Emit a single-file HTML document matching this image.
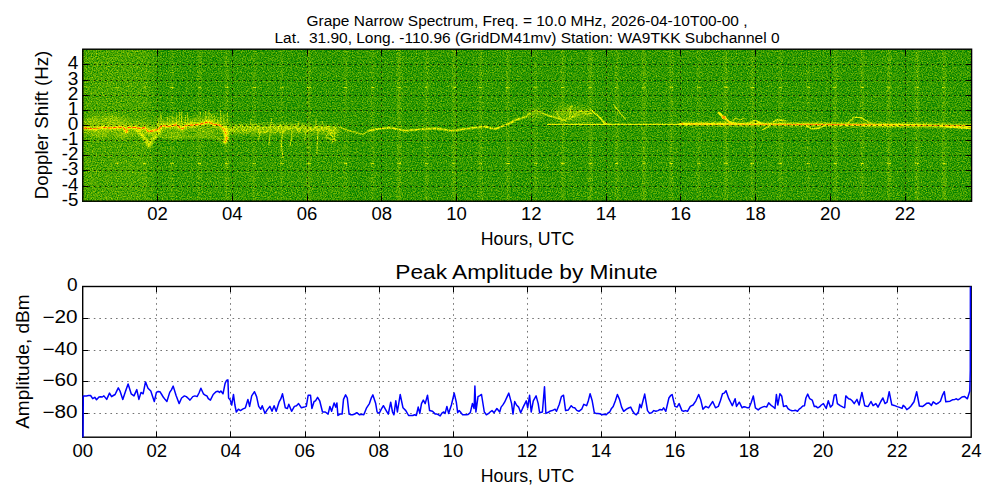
<!DOCTYPE html>
<html><head><meta charset="utf-8"><style>
html,body{margin:0;padding:0;background:#fff;width:1000px;height:500px;overflow:hidden}
svg{display:block}
text{font-family:"Liberation Sans", sans-serif;white-space:pre}
</style></head><body>
<svg width="1000" height="500" viewBox="0 0 1000 500">
<defs>
<filter id="cm" x="82.8" y="49.2" width="888.8" height="152.0" filterUnits="userSpaceOnUse" color-interpolation-filters="sRGB">
<feTurbulence type="fractalNoise" baseFrequency="0.8" numOctaves="2" seed="7" result="n"/>
<feColorMatrix in="n" type="matrix" values="1 0 0 0 0  1 0 0 0 0  1 0 0 0 0  0 0 0 0 1" result="ng0"/>
<feGaussianBlur in="ng0" stdDeviation="0.35" result="ng"/>
<feComposite in="SourceGraphic" in2="ng" operator="arithmetic" k1="0" k2="1" k3="0.58" k4="-0.29" result="lv"/>
<feComponentTransfer in="lv">
<feFuncR type="table" tableValues="0 1 1"/>
<feFuncG type="table" tableValues="0.5 1 0"/>
<feFuncB type="table" tableValues="0 0 0"/>
<feFuncA type="discrete" tableValues="1"/>
</feComponentTransfer>
</filter>
<filter id="b6" x="60" y="30" width="930" height="190" filterUnits="userSpaceOnUse"><feGaussianBlur stdDeviation="6"/></filter>
<filter id="b4" x="60" y="30" width="930" height="190" filterUnits="userSpaceOnUse"><feGaussianBlur stdDeviation="4"/></filter>
<filter id="b3" x="60" y="30" width="930" height="190" filterUnits="userSpaceOnUse"><feGaussianBlur stdDeviation="3"/></filter>
<filter id="b2" x="60" y="30" width="930" height="190" filterUnits="userSpaceOnUse"><feGaussianBlur stdDeviation="2"/></filter>
<filter id="b1" x="60" y="30" width="930" height="190" filterUnits="userSpaceOnUse"><feGaussianBlur stdDeviation="0.8"/></filter>
<filter id="b15" x="60" y="30" width="930" height="190" filterUnits="userSpaceOnUse"><feGaussianBlur stdDeviation="1.0 0.3"/></filter>
<filter id="b05" x="60" y="30" width="930" height="190" filterUnits="userSpaceOnUse"><feGaussianBlur stdDeviation="0.5"/></filter>
</defs>
<g filter="url(#cm)">
<rect x="82.8" y="49.2" width="888.8" height="152.0" fill="#191919"/>
<g filter="url(#b6)">
<rect x="70" y="40" width="84" height="170" fill="#282828"/>
<rect x="150" y="128" width="85" height="80" fill="#1d1d1d"/>
<rect x="235" y="128" width="110" height="80" fill="#1a1a1a"/>
</g>
<rect x="115.2" y="49.2" width="3.5" height="152.0" fill="#272727" opacity="0.9" filter="url(#b15)"/>
<rect x="115.2" y="86.9" width="3.5" height="1.2" fill="#666666" opacity="0.9"/>
<rect x="115.2" y="162.9" width="3.5" height="1.2" fill="#6e6e6e" opacity="0.9"/>
<rect x="115.2" y="146.9" width="3.5" height="1.2" fill="#383838" opacity="0.9"/>
<rect x="115.2" y="177.9" width="3.5" height="1.2" fill="#383838" opacity="0.9"/>
<rect x="115.2" y="71.9" width="3.5" height="1.2" fill="#303030" opacity="0.9"/>
<rect x="115.2" y="101.9" width="3.5" height="1.2" fill="#303030" opacity="0.9"/>
<rect x="142.8" y="49.2" width="3.5" height="152.0" fill="#2b2b2b" opacity="0.9" filter="url(#b15)"/>
<rect x="142.8" y="86.9" width="3.5" height="1.2" fill="#666666" opacity="0.9"/>
<rect x="142.8" y="162.9" width="3.5" height="1.2" fill="#6e6e6e" opacity="0.9"/>
<rect x="142.8" y="146.9" width="3.5" height="1.2" fill="#383838" opacity="0.9"/>
<rect x="142.8" y="177.9" width="3.5" height="1.2" fill="#383838" opacity="0.9"/>
<rect x="142.8" y="71.9" width="3.5" height="1.2" fill="#303030" opacity="0.9"/>
<rect x="142.8" y="101.9" width="3.5" height="1.2" fill="#303030" opacity="0.9"/>
<rect x="170.2" y="49.2" width="3.5" height="152.0" fill="#282828" opacity="0.9" filter="url(#b15)"/>
<rect x="170.2" y="86.9" width="3.5" height="1.2" fill="#666666" opacity="0.9"/>
<rect x="170.2" y="162.9" width="3.5" height="1.2" fill="#6e6e6e" opacity="0.9"/>
<rect x="170.2" y="146.9" width="3.5" height="1.2" fill="#383838" opacity="0.9"/>
<rect x="170.2" y="177.9" width="3.5" height="1.2" fill="#383838" opacity="0.9"/>
<rect x="170.2" y="71.9" width="3.5" height="1.2" fill="#303030" opacity="0.9"/>
<rect x="170.2" y="101.9" width="3.5" height="1.2" fill="#303030" opacity="0.9"/>
<rect x="197.8" y="49.2" width="3.5" height="152.0" fill="#2b2b2b" opacity="0.9" filter="url(#b15)"/>
<rect x="197.8" y="86.9" width="3.5" height="1.2" fill="#666666" opacity="0.9"/>
<rect x="197.8" y="162.9" width="3.5" height="1.2" fill="#6e6e6e" opacity="0.9"/>
<rect x="197.8" y="146.9" width="3.5" height="1.2" fill="#383838" opacity="0.9"/>
<rect x="197.8" y="177.9" width="3.5" height="1.2" fill="#383838" opacity="0.9"/>
<rect x="197.8" y="71.9" width="3.5" height="1.2" fill="#303030" opacity="0.9"/>
<rect x="197.8" y="101.9" width="3.5" height="1.2" fill="#303030" opacity="0.9"/>
<rect x="225.2" y="49.2" width="3.5" height="152.0" fill="#2c2c2c" opacity="0.9" filter="url(#b15)"/>
<rect x="225.2" y="86.9" width="3.5" height="1.2" fill="#666666" opacity="0.9"/>
<rect x="225.2" y="162.9" width="3.5" height="1.2" fill="#6e6e6e" opacity="0.9"/>
<rect x="225.2" y="146.9" width="3.5" height="1.2" fill="#383838" opacity="0.9"/>
<rect x="225.2" y="177.9" width="3.5" height="1.2" fill="#383838" opacity="0.9"/>
<rect x="225.2" y="71.9" width="3.5" height="1.2" fill="#303030" opacity="0.9"/>
<rect x="225.2" y="101.9" width="3.5" height="1.2" fill="#303030" opacity="0.9"/>
<rect x="252.4" y="49.2" width="3.5" height="152.0" fill="#252525" opacity="0.9" filter="url(#b15)"/>
<rect x="252.4" y="86.9" width="3.5" height="1.2" fill="#666666" opacity="0.9"/>
<rect x="252.4" y="162.9" width="3.5" height="1.2" fill="#6e6e6e" opacity="0.9"/>
<rect x="252.4" y="146.9" width="3.5" height="1.2" fill="#383838" opacity="0.9"/>
<rect x="252.4" y="177.9" width="3.5" height="1.2" fill="#383838" opacity="0.9"/>
<rect x="252.4" y="71.9" width="3.5" height="1.2" fill="#303030" opacity="0.9"/>
<rect x="252.4" y="101.9" width="3.5" height="1.2" fill="#303030" opacity="0.9"/>
<rect x="280.1" y="49.2" width="3.5" height="152.0" fill="#242424" opacity="0.9" filter="url(#b15)"/>
<rect x="280.1" y="86.9" width="3.5" height="1.2" fill="#666666" opacity="0.9"/>
<rect x="280.1" y="162.9" width="3.5" height="1.2" fill="#6e6e6e" opacity="0.9"/>
<rect x="280.1" y="146.9" width="3.5" height="1.2" fill="#383838" opacity="0.9"/>
<rect x="280.1" y="177.9" width="3.5" height="1.2" fill="#383838" opacity="0.9"/>
<rect x="280.1" y="71.9" width="3.5" height="1.2" fill="#303030" opacity="0.9"/>
<rect x="280.1" y="101.9" width="3.5" height="1.2" fill="#303030" opacity="0.9"/>
<rect x="307.1" y="49.2" width="3.5" height="152.0" fill="#2e2e2e" opacity="0.9" filter="url(#b15)"/>
<rect x="307.1" y="86.9" width="3.5" height="1.2" fill="#666666" opacity="0.9"/>
<rect x="307.1" y="162.9" width="3.5" height="1.2" fill="#6e6e6e" opacity="0.9"/>
<rect x="307.1" y="146.9" width="3.5" height="1.2" fill="#383838" opacity="0.9"/>
<rect x="307.1" y="177.9" width="3.5" height="1.2" fill="#383838" opacity="0.9"/>
<rect x="307.1" y="71.9" width="3.5" height="1.2" fill="#303030" opacity="0.9"/>
<rect x="307.1" y="101.9" width="3.5" height="1.2" fill="#303030" opacity="0.9"/>
<rect x="343.6" y="49.2" width="3.5" height="152.0" fill="#272727" opacity="0.9" filter="url(#b15)"/>
<rect x="343.6" y="86.9" width="3.5" height="1.2" fill="#666666" opacity="0.9"/>
<rect x="343.6" y="162.9" width="3.5" height="1.2" fill="#6e6e6e" opacity="0.9"/>
<rect x="343.6" y="146.9" width="3.5" height="1.2" fill="#383838" opacity="0.9"/>
<rect x="343.6" y="177.9" width="3.5" height="1.2" fill="#383838" opacity="0.9"/>
<rect x="343.6" y="71.9" width="3.5" height="1.2" fill="#303030" opacity="0.9"/>
<rect x="343.6" y="101.9" width="3.5" height="1.2" fill="#303030" opacity="0.9"/>
<rect x="370.6" y="49.2" width="3.5" height="152.0" fill="#272727" opacity="0.9" filter="url(#b15)"/>
<rect x="370.6" y="86.9" width="3.5" height="1.2" fill="#666666" opacity="0.9"/>
<rect x="370.6" y="162.9" width="3.5" height="1.2" fill="#6e6e6e" opacity="0.9"/>
<rect x="370.6" y="146.9" width="3.5" height="1.2" fill="#383838" opacity="0.9"/>
<rect x="370.6" y="177.9" width="3.5" height="1.2" fill="#383838" opacity="0.9"/>
<rect x="370.6" y="71.9" width="3.5" height="1.2" fill="#303030" opacity="0.9"/>
<rect x="370.6" y="101.9" width="3.5" height="1.2" fill="#303030" opacity="0.9"/>
<rect x="397.4" y="49.2" width="3.5" height="152.0" fill="#303030" opacity="0.9" filter="url(#b15)"/>
<rect x="397.4" y="86.9" width="3.5" height="1.2" fill="#666666" opacity="0.9"/>
<rect x="397.4" y="162.9" width="3.5" height="1.2" fill="#6e6e6e" opacity="0.9"/>
<rect x="397.4" y="146.9" width="3.5" height="1.2" fill="#383838" opacity="0.9"/>
<rect x="397.4" y="177.9" width="3.5" height="1.2" fill="#383838" opacity="0.9"/>
<rect x="397.4" y="71.9" width="3.5" height="1.2" fill="#303030" opacity="0.9"/>
<rect x="397.4" y="101.9" width="3.5" height="1.2" fill="#303030" opacity="0.9"/>
<rect x="424.9" y="49.2" width="3.5" height="152.0" fill="#2a2a2a" opacity="0.9" filter="url(#b15)"/>
<rect x="424.9" y="86.9" width="3.5" height="1.2" fill="#666666" opacity="0.9"/>
<rect x="424.9" y="162.9" width="3.5" height="1.2" fill="#6e6e6e" opacity="0.9"/>
<rect x="424.9" y="146.9" width="3.5" height="1.2" fill="#383838" opacity="0.9"/>
<rect x="424.9" y="177.9" width="3.5" height="1.2" fill="#383838" opacity="0.9"/>
<rect x="424.9" y="71.9" width="3.5" height="1.2" fill="#303030" opacity="0.9"/>
<rect x="424.9" y="101.9" width="3.5" height="1.2" fill="#303030" opacity="0.9"/>
<rect x="452.4" y="49.2" width="3.5" height="152.0" fill="#2e2e2e" opacity="0.9" filter="url(#b15)"/>
<rect x="452.4" y="86.9" width="3.5" height="1.2" fill="#666666" opacity="0.9"/>
<rect x="452.4" y="162.9" width="3.5" height="1.2" fill="#6e6e6e" opacity="0.9"/>
<rect x="452.4" y="146.9" width="3.5" height="1.2" fill="#383838" opacity="0.9"/>
<rect x="452.4" y="177.9" width="3.5" height="1.2" fill="#383838" opacity="0.9"/>
<rect x="452.4" y="71.9" width="3.5" height="1.2" fill="#303030" opacity="0.9"/>
<rect x="452.4" y="101.9" width="3.5" height="1.2" fill="#303030" opacity="0.9"/>
<rect x="478.8" y="49.2" width="3.5" height="152.0" fill="#2a2a2a" opacity="0.9" filter="url(#b15)"/>
<rect x="478.8" y="86.9" width="3.5" height="1.2" fill="#666666" opacity="0.9"/>
<rect x="478.8" y="162.9" width="3.5" height="1.2" fill="#6e6e6e" opacity="0.9"/>
<rect x="478.8" y="146.9" width="3.5" height="1.2" fill="#383838" opacity="0.9"/>
<rect x="478.8" y="177.9" width="3.5" height="1.2" fill="#383838" opacity="0.9"/>
<rect x="478.8" y="71.9" width="3.5" height="1.2" fill="#303030" opacity="0.9"/>
<rect x="478.8" y="101.9" width="3.5" height="1.2" fill="#303030" opacity="0.9"/>
<rect x="506.2" y="49.2" width="3.5" height="152.0" fill="#2c2c2c" opacity="0.9" filter="url(#b15)"/>
<rect x="506.2" y="86.9" width="3.5" height="1.2" fill="#666666" opacity="0.9"/>
<rect x="506.2" y="162.9" width="3.5" height="1.2" fill="#6e6e6e" opacity="0.9"/>
<rect x="506.2" y="146.9" width="3.5" height="1.2" fill="#383838" opacity="0.9"/>
<rect x="506.2" y="177.9" width="3.5" height="1.2" fill="#383838" opacity="0.9"/>
<rect x="506.2" y="71.9" width="3.5" height="1.2" fill="#303030" opacity="0.9"/>
<rect x="506.2" y="101.9" width="3.5" height="1.2" fill="#303030" opacity="0.9"/>
<rect x="533.8" y="49.2" width="3.5" height="152.0" fill="#262626" opacity="0.9" filter="url(#b15)"/>
<rect x="533.8" y="86.9" width="3.5" height="1.2" fill="#666666" opacity="0.9"/>
<rect x="533.8" y="162.9" width="3.5" height="1.2" fill="#6e6e6e" opacity="0.9"/>
<rect x="533.8" y="146.9" width="3.5" height="1.2" fill="#383838" opacity="0.9"/>
<rect x="533.8" y="177.9" width="3.5" height="1.2" fill="#383838" opacity="0.9"/>
<rect x="533.8" y="71.9" width="3.5" height="1.2" fill="#303030" opacity="0.9"/>
<rect x="533.8" y="101.9" width="3.5" height="1.2" fill="#303030" opacity="0.9"/>
<rect x="561.2" y="49.2" width="3.5" height="152.0" fill="#2c2c2c" opacity="0.9" filter="url(#b15)"/>
<rect x="561.2" y="86.9" width="3.5" height="1.2" fill="#666666" opacity="0.9"/>
<rect x="561.2" y="162.9" width="3.5" height="1.2" fill="#6e6e6e" opacity="0.9"/>
<rect x="561.2" y="146.9" width="3.5" height="1.2" fill="#383838" opacity="0.9"/>
<rect x="561.2" y="177.9" width="3.5" height="1.2" fill="#383838" opacity="0.9"/>
<rect x="561.2" y="71.9" width="3.5" height="1.2" fill="#303030" opacity="0.9"/>
<rect x="561.2" y="101.9" width="3.5" height="1.2" fill="#303030" opacity="0.9"/>
<rect x="588.8" y="49.2" width="3.5" height="152.0" fill="#2f2f2f" opacity="0.9" filter="url(#b15)"/>
<rect x="588.8" y="86.9" width="3.5" height="1.2" fill="#666666" opacity="0.9"/>
<rect x="588.8" y="162.9" width="3.5" height="1.2" fill="#6e6e6e" opacity="0.9"/>
<rect x="588.8" y="146.9" width="3.5" height="1.2" fill="#383838" opacity="0.9"/>
<rect x="588.8" y="177.9" width="3.5" height="1.2" fill="#383838" opacity="0.9"/>
<rect x="588.8" y="71.9" width="3.5" height="1.2" fill="#303030" opacity="0.9"/>
<rect x="588.8" y="101.9" width="3.5" height="1.2" fill="#303030" opacity="0.9"/>
<rect x="615.0" y="49.2" width="3.5" height="152.0" fill="#2a2a2a" opacity="0.9" filter="url(#b15)"/>
<rect x="615.0" y="86.9" width="3.5" height="1.2" fill="#666666" opacity="0.9"/>
<rect x="615.0" y="162.9" width="3.5" height="1.2" fill="#6e6e6e" opacity="0.9"/>
<rect x="615.0" y="146.9" width="3.5" height="1.2" fill="#383838" opacity="0.9"/>
<rect x="615.0" y="177.9" width="3.5" height="1.2" fill="#383838" opacity="0.9"/>
<rect x="615.0" y="71.9" width="3.5" height="1.2" fill="#303030" opacity="0.9"/>
<rect x="615.0" y="101.9" width="3.5" height="1.2" fill="#303030" opacity="0.9"/>
<rect x="642.2" y="49.2" width="3.5" height="152.0" fill="#2d2d2d" opacity="0.9" filter="url(#b15)"/>
<rect x="642.2" y="86.9" width="3.5" height="1.2" fill="#666666" opacity="0.9"/>
<rect x="642.2" y="162.9" width="3.5" height="1.2" fill="#6e6e6e" opacity="0.9"/>
<rect x="642.2" y="146.9" width="3.5" height="1.2" fill="#383838" opacity="0.9"/>
<rect x="642.2" y="177.9" width="3.5" height="1.2" fill="#383838" opacity="0.9"/>
<rect x="642.2" y="71.9" width="3.5" height="1.2" fill="#303030" opacity="0.9"/>
<rect x="642.2" y="101.9" width="3.5" height="1.2" fill="#303030" opacity="0.9"/>
<rect x="669.5" y="49.2" width="3.5" height="152.0" fill="#2c2c2c" opacity="0.9" filter="url(#b15)"/>
<rect x="669.5" y="86.9" width="3.5" height="1.2" fill="#666666" opacity="0.9"/>
<rect x="669.5" y="162.9" width="3.5" height="1.2" fill="#6e6e6e" opacity="0.9"/>
<rect x="669.5" y="146.9" width="3.5" height="1.2" fill="#383838" opacity="0.9"/>
<rect x="669.5" y="177.9" width="3.5" height="1.2" fill="#383838" opacity="0.9"/>
<rect x="669.5" y="71.9" width="3.5" height="1.2" fill="#303030" opacity="0.9"/>
<rect x="669.5" y="101.9" width="3.5" height="1.2" fill="#303030" opacity="0.9"/>
<rect x="697.0" y="49.2" width="3.5" height="152.0" fill="#252525" opacity="0.9" filter="url(#b15)"/>
<rect x="697.0" y="86.9" width="3.5" height="1.2" fill="#666666" opacity="0.9"/>
<rect x="697.0" y="162.9" width="3.5" height="1.2" fill="#6e6e6e" opacity="0.9"/>
<rect x="697.0" y="146.9" width="3.5" height="1.2" fill="#383838" opacity="0.9"/>
<rect x="697.0" y="177.9" width="3.5" height="1.2" fill="#383838" opacity="0.9"/>
<rect x="697.0" y="71.9" width="3.5" height="1.2" fill="#303030" opacity="0.9"/>
<rect x="697.0" y="101.9" width="3.5" height="1.2" fill="#303030" opacity="0.9"/>
<rect x="724.2" y="49.2" width="3.5" height="152.0" fill="#2d2d2d" opacity="0.9" filter="url(#b15)"/>
<rect x="724.2" y="86.9" width="3.5" height="1.2" fill="#666666" opacity="0.9"/>
<rect x="724.2" y="162.9" width="3.5" height="1.2" fill="#6e6e6e" opacity="0.9"/>
<rect x="724.2" y="146.9" width="3.5" height="1.2" fill="#383838" opacity="0.9"/>
<rect x="724.2" y="177.9" width="3.5" height="1.2" fill="#383838" opacity="0.9"/>
<rect x="724.2" y="71.9" width="3.5" height="1.2" fill="#303030" opacity="0.9"/>
<rect x="724.2" y="101.9" width="3.5" height="1.2" fill="#303030" opacity="0.9"/>
<rect x="750.5" y="49.2" width="3.5" height="152.0" fill="#2b2b2b" opacity="0.9" filter="url(#b15)"/>
<rect x="750.5" y="86.9" width="3.5" height="1.2" fill="#666666" opacity="0.9"/>
<rect x="750.5" y="162.9" width="3.5" height="1.2" fill="#6e6e6e" opacity="0.9"/>
<rect x="750.5" y="146.9" width="3.5" height="1.2" fill="#383838" opacity="0.9"/>
<rect x="750.5" y="177.9" width="3.5" height="1.2" fill="#383838" opacity="0.9"/>
<rect x="750.5" y="71.9" width="3.5" height="1.2" fill="#303030" opacity="0.9"/>
<rect x="750.5" y="101.9" width="3.5" height="1.2" fill="#303030" opacity="0.9"/>
<rect x="778.6" y="49.2" width="3.5" height="152.0" fill="#282828" opacity="0.9" filter="url(#b15)"/>
<rect x="778.6" y="86.9" width="3.5" height="1.2" fill="#666666" opacity="0.9"/>
<rect x="778.6" y="162.9" width="3.5" height="1.2" fill="#6e6e6e" opacity="0.9"/>
<rect x="778.6" y="146.9" width="3.5" height="1.2" fill="#383838" opacity="0.9"/>
<rect x="778.6" y="177.9" width="3.5" height="1.2" fill="#383838" opacity="0.9"/>
<rect x="778.6" y="71.9" width="3.5" height="1.2" fill="#303030" opacity="0.9"/>
<rect x="778.6" y="101.9" width="3.5" height="1.2" fill="#303030" opacity="0.9"/>
<rect x="806.6" y="49.2" width="3.5" height="152.0" fill="#242424" opacity="0.9" filter="url(#b15)"/>
<rect x="806.6" y="86.9" width="3.5" height="1.2" fill="#666666" opacity="0.9"/>
<rect x="806.6" y="162.9" width="3.5" height="1.2" fill="#6e6e6e" opacity="0.9"/>
<rect x="806.6" y="146.9" width="3.5" height="1.2" fill="#383838" opacity="0.9"/>
<rect x="806.6" y="177.9" width="3.5" height="1.2" fill="#383838" opacity="0.9"/>
<rect x="806.6" y="71.9" width="3.5" height="1.2" fill="#303030" opacity="0.9"/>
<rect x="806.6" y="101.9" width="3.5" height="1.2" fill="#303030" opacity="0.9"/>
<rect x="833.5" y="49.2" width="3.5" height="152.0" fill="#2f2f2f" opacity="0.9" filter="url(#b15)"/>
<rect x="833.5" y="86.9" width="3.5" height="1.2" fill="#666666" opacity="0.9"/>
<rect x="833.5" y="162.9" width="3.5" height="1.2" fill="#6e6e6e" opacity="0.9"/>
<rect x="833.5" y="146.9" width="3.5" height="1.2" fill="#383838" opacity="0.9"/>
<rect x="833.5" y="177.9" width="3.5" height="1.2" fill="#383838" opacity="0.9"/>
<rect x="833.5" y="71.9" width="3.5" height="1.2" fill="#303030" opacity="0.9"/>
<rect x="833.5" y="101.9" width="3.5" height="1.2" fill="#303030" opacity="0.9"/>
<rect x="860.5" y="49.2" width="3.5" height="152.0" fill="#2a2a2a" opacity="0.9" filter="url(#b15)"/>
<rect x="860.5" y="86.9" width="3.5" height="1.2" fill="#666666" opacity="0.9"/>
<rect x="860.5" y="162.9" width="3.5" height="1.2" fill="#6e6e6e" opacity="0.9"/>
<rect x="860.5" y="146.9" width="3.5" height="1.2" fill="#383838" opacity="0.9"/>
<rect x="860.5" y="177.9" width="3.5" height="1.2" fill="#383838" opacity="0.9"/>
<rect x="860.5" y="71.9" width="3.5" height="1.2" fill="#303030" opacity="0.9"/>
<rect x="860.5" y="101.9" width="3.5" height="1.2" fill="#303030" opacity="0.9"/>
<rect x="887.2" y="49.2" width="3.5" height="152.0" fill="#2d2d2d" opacity="0.9" filter="url(#b15)"/>
<rect x="887.2" y="86.9" width="3.5" height="1.2" fill="#666666" opacity="0.9"/>
<rect x="887.2" y="162.9" width="3.5" height="1.2" fill="#6e6e6e" opacity="0.9"/>
<rect x="887.2" y="146.9" width="3.5" height="1.2" fill="#383838" opacity="0.9"/>
<rect x="887.2" y="177.9" width="3.5" height="1.2" fill="#383838" opacity="0.9"/>
<rect x="887.2" y="71.9" width="3.5" height="1.2" fill="#303030" opacity="0.9"/>
<rect x="887.2" y="101.9" width="3.5" height="1.2" fill="#303030" opacity="0.9"/>
<rect x="915.2" y="49.2" width="3.5" height="152.0" fill="#2f2f2f" opacity="0.9" filter="url(#b15)"/>
<rect x="915.2" y="86.9" width="3.5" height="1.2" fill="#666666" opacity="0.9"/>
<rect x="915.2" y="162.9" width="3.5" height="1.2" fill="#6e6e6e" opacity="0.9"/>
<rect x="915.2" y="146.9" width="3.5" height="1.2" fill="#383838" opacity="0.9"/>
<rect x="915.2" y="177.9" width="3.5" height="1.2" fill="#383838" opacity="0.9"/>
<rect x="915.2" y="71.9" width="3.5" height="1.2" fill="#303030" opacity="0.9"/>
<rect x="915.2" y="101.9" width="3.5" height="1.2" fill="#303030" opacity="0.9"/>
<rect x="942.1" y="49.2" width="3.5" height="152.0" fill="#2d2d2d" opacity="0.9" filter="url(#b15)"/>
<rect x="942.1" y="86.9" width="3.5" height="1.2" fill="#666666" opacity="0.9"/>
<rect x="942.1" y="162.9" width="3.5" height="1.2" fill="#6e6e6e" opacity="0.9"/>
<rect x="942.1" y="146.9" width="3.5" height="1.2" fill="#383838" opacity="0.9"/>
<rect x="942.1" y="177.9" width="3.5" height="1.2" fill="#383838" opacity="0.9"/>
<rect x="942.1" y="71.9" width="3.5" height="1.2" fill="#303030" opacity="0.9"/>
<rect x="942.1" y="101.9" width="3.5" height="1.2" fill="#303030" opacity="0.9"/>
<polyline points="83.0,128.0 89.6,128.5 96.0,128.8 102.4,127.5 108.8,128.0 116.8,127.5 123.2,127.2 126.4,132.0 128.0,127.5 136.0,127.5 140.8,128.8 144.8,127.5 148.8,132.0 153.6,130.4 158.4,129.6 161.6,125.6 169.6,126.4 176.0,124.8 182.4,128.8 185.6,125.6 195.2,124.8 201.6,124.0 208.8,121.6 214.4,124.8 219.2,124.8 224.0,128.8" fill="none" stroke="#424242" stroke-width="12" stroke-opacity="0.9" stroke-linejoin="round" stroke-linecap="round" filter="url(#b3)"/>
<polyline points="90.0,120.0 110.0,118.0 125.0,121.0" fill="none" stroke="#474747" stroke-width="5" stroke-opacity="0.8" stroke-linejoin="round" stroke-linecap="round" filter="url(#b2)"/>
<polyline points="136.0,129.0 144.0,137.0 149.0,146.0 153.0,139.0 160.0,131.0" fill="none" stroke="#757575" stroke-width="3.2" stroke-opacity="0.9" stroke-linejoin="round" stroke-linecap="round" filter="url(#b1)"/>
<polyline points="150.0,134.0 175.0,138.0 200.0,136.0 215.0,137.0 226.0,141.0" fill="none" stroke="#4c4c4c" stroke-width="2.5" stroke-opacity="0.8" stroke-linejoin="round" stroke-linecap="round" filter="url(#b1)"/>
<polyline points="158.0,126.0 158.8,118.4" fill="none" stroke="#616161" stroke-width="1.1" stroke-opacity="0.8" stroke-linejoin="round" stroke-linecap="round" filter="url(#b05)"/>
<polyline points="161.0,125.8 160.9,113.4" fill="none" stroke="#636363" stroke-width="1.1" stroke-opacity="0.8" stroke-linejoin="round" stroke-linecap="round" filter="url(#b05)"/>
<polyline points="164.0,125.7 163.2,120.5" fill="none" stroke="#525252" stroke-width="1.1" stroke-opacity="0.8" stroke-linejoin="round" stroke-linecap="round" filter="url(#b05)"/>
<polyline points="167.0,125.5 167.9,117.6" fill="none" stroke="#5c5c5c" stroke-width="1.1" stroke-opacity="0.8" stroke-linejoin="round" stroke-linecap="round" filter="url(#b05)"/>
<polyline points="170.0,125.4 169.6,116.8" fill="none" stroke="#565656" stroke-width="1.1" stroke-opacity="0.8" stroke-linejoin="round" stroke-linecap="round" filter="url(#b05)"/>
<polyline points="173.0,125.2 172.7,116.0" fill="none" stroke="#5b5b5b" stroke-width="1.1" stroke-opacity="0.8" stroke-linejoin="round" stroke-linecap="round" filter="url(#b05)"/>
<polyline points="176.0,125.1 176.8,115.0" fill="none" stroke="#646464" stroke-width="1.1" stroke-opacity="0.8" stroke-linejoin="round" stroke-linecap="round" filter="url(#b05)"/>
<polyline points="179.0,125.0 179.7,112.0" fill="none" stroke="#5e5e5e" stroke-width="1.1" stroke-opacity="0.8" stroke-linejoin="round" stroke-linecap="round" filter="url(#b05)"/>
<polyline points="182.0,124.8 181.3,113.1" fill="none" stroke="#656565" stroke-width="1.1" stroke-opacity="0.8" stroke-linejoin="round" stroke-linecap="round" filter="url(#b05)"/>
<polyline points="185.0,124.7 185.8,115.5" fill="none" stroke="#5f5f5f" stroke-width="1.1" stroke-opacity="0.8" stroke-linejoin="round" stroke-linecap="round" filter="url(#b05)"/>
<polyline points="188.0,124.5 187.4,113.0" fill="none" stroke="#5b5b5b" stroke-width="1.1" stroke-opacity="0.8" stroke-linejoin="round" stroke-linecap="round" filter="url(#b05)"/>
<polyline points="191.0,124.3 190.6,119.8" fill="none" stroke="#626262" stroke-width="1.1" stroke-opacity="0.8" stroke-linejoin="round" stroke-linecap="round" filter="url(#b05)"/>
<polyline points="194.0,124.2 195.0,119.4" fill="none" stroke="#616161" stroke-width="1.1" stroke-opacity="0.8" stroke-linejoin="round" stroke-linecap="round" filter="url(#b05)"/>
<polyline points="197.0,124.0 196.8,118.7" fill="none" stroke="#545454" stroke-width="1.1" stroke-opacity="0.8" stroke-linejoin="round" stroke-linecap="round" filter="url(#b05)"/>
<polyline points="200.0,123.9 200.5,112.0" fill="none" stroke="#4e4e4e" stroke-width="1.1" stroke-opacity="0.8" stroke-linejoin="round" stroke-linecap="round" filter="url(#b05)"/>
<polyline points="203.0,123.8 203.2,119.3" fill="none" stroke="#5f5f5f" stroke-width="1.1" stroke-opacity="0.8" stroke-linejoin="round" stroke-linecap="round" filter="url(#b05)"/>
<polyline points="206.0,123.6 205.7,111.7" fill="none" stroke="#666666" stroke-width="1.1" stroke-opacity="0.8" stroke-linejoin="round" stroke-linecap="round" filter="url(#b05)"/>
<polyline points="209.0,123.5 209.0,110.5" fill="none" stroke="#545454" stroke-width="1.1" stroke-opacity="0.8" stroke-linejoin="round" stroke-linecap="round" filter="url(#b05)"/>
<polyline points="212.0,123.3 211.2,113.9" fill="none" stroke="#4d4d4d" stroke-width="1.1" stroke-opacity="0.8" stroke-linejoin="round" stroke-linecap="round" filter="url(#b05)"/>
<polyline points="215.0,123.2 214.4,115.5" fill="none" stroke="#5c5c5c" stroke-width="1.1" stroke-opacity="0.8" stroke-linejoin="round" stroke-linecap="round" filter="url(#b05)"/>
<polyline points="218.0,123.0 217.3,118.6" fill="none" stroke="#636363" stroke-width="1.1" stroke-opacity="0.8" stroke-linejoin="round" stroke-linecap="round" filter="url(#b05)"/>
<polyline points="221.0,122.8 220.6,110.2" fill="none" stroke="#636363" stroke-width="1.1" stroke-opacity="0.8" stroke-linejoin="round" stroke-linecap="round" filter="url(#b05)"/>
<polyline points="224.0,122.7 223.8,114.6" fill="none" stroke="#5a5a5a" stroke-width="1.1" stroke-opacity="0.8" stroke-linejoin="round" stroke-linecap="round" filter="url(#b05)"/>
<polyline points="227.0,122.5 227.3,113.2" fill="none" stroke="#5b5b5b" stroke-width="1.1" stroke-opacity="0.8" stroke-linejoin="round" stroke-linecap="round" filter="url(#b05)"/>
<ellipse cx="92" cy="122" rx="7" ry="3" fill="#4c4c4c" opacity="0.8" filter="url(#b2)"/>
<ellipse cx="112" cy="121" rx="8" ry="4" fill="#4c4c4c" opacity="0.8" filter="url(#b2)"/>
<ellipse cx="100" cy="134" rx="9" ry="3" fill="#4c4c4c" opacity="0.8" filter="url(#b2)"/>
<ellipse cx="120" cy="135" rx="6" ry="3" fill="#4c4c4c" opacity="0.8" filter="url(#b2)"/>
<ellipse cx="175" cy="134" rx="8" ry="3" fill="#4c4c4c" opacity="0.8" filter="url(#b2)"/>
<ellipse cx="205" cy="132" rx="10" ry="3" fill="#4c4c4c" opacity="0.8" filter="url(#b2)"/>
<polyline points="226.0,129.5 260.0,129.0 300.0,128.5 336.0,130.5" fill="none" stroke="#404040" stroke-width="9" stroke-opacity="0.9" stroke-linejoin="round" stroke-linecap="round" filter="url(#b2)"/>
<polyline points="226.0,130.2 229.4,129.1 231.7,131.2 233.7,127.0 237.2,129.2 239.8,124.1 242.1,129.8 243.6,130.2 246.4,124.6 249.2,128.7 252.0,127.5 254.9,131.4 256.5,124.6 259.3,133.6 261.3,128.6 264.0,127.2 266.2,127.1 268.5,130.0 270.6,127.8 273.6,124.3 276.3,131.4 278.4,126.2 281.5,126.4 283.4,128.4 286.3,125.0 288.4,127.3 291.6,128.4 294.8,125.7 297.0,130.5 300.2,128.5 302.2,125.2 304.7,125.9 307.9,132.4 309.7,126.8 312.8,130.4 315.9,127.5 317.7,126.9 320.8,126.7 323.0,128.2 325.3,128.1 328.7,125.6 330.2,133.4 333.4,133.9 335.8,133.5" fill="none" stroke="#6b6b6b" stroke-width="0.9" stroke-opacity="0.8" stroke-linejoin="round" stroke-linecap="round" filter="url(#b05)"/>
<polyline points="226.0,126.2 229.0,132.4 231.8,129.2 233.9,127.4 235.9,124.7 238.5,126.9 241.6,124.5 245.0,130.9 248.3,133.0 251.6,129.8 253.1,131.5 255.0,127.0 257.8,129.2 260.1,133.4 262.8,127.4 264.9,132.6 267.3,131.8 269.5,126.0 272.1,132.2 273.9,131.9 277.3,132.1 280.4,124.1 283.2,132.6 284.8,126.7 286.8,129.3 289.2,128.7 292.2,124.0 293.8,125.3 295.6,124.7 299.0,132.5 300.7,129.0 302.8,127.1 305.0,130.5 307.7,127.6 309.6,127.3 311.3,129.6 314.3,127.8 315.9,125.8 318.2,130.0 321.2,127.8 324.3,130.2 326.7,127.7 329.2,131.0 331.5,130.9 334.0,126.5 336.5,131.0" fill="none" stroke="#6b6b6b" stroke-width="0.9" stroke-opacity="0.8" stroke-linejoin="round" stroke-linecap="round" filter="url(#b05)"/>
<polyline points="226.0,128.2 228.4,132.8 231.7,127.7 235.0,131.9 237.0,128.6 238.8,132.1 241.6,132.9 244.7,130.7 247.7,129.6 249.4,129.9 250.9,125.4 253.9,124.4 255.6,125.0 258.9,125.8 260.4,132.4 262.2,132.4 265.0,132.4 268.4,129.8 271.5,124.4 274.6,129.1 277.5,125.1 280.5,133.3 282.1,127.2 284.7,132.3 286.7,125.8 288.7,130.2 291.7,127.9 294.0,128.0 296.2,128.2 297.8,129.0 301.3,128.1 304.3,125.6 307.1,131.6 310.0,129.2 312.5,130.4 315.8,125.5 317.4,131.5 320.8,129.2 323.2,131.2 325.0,126.7 326.9,129.9 329.1,126.3 331.9,133.5 334.0,131.1 336.4,132.5" fill="none" stroke="#6b6b6b" stroke-width="0.9" stroke-opacity="0.8" stroke-linejoin="round" stroke-linecap="round" filter="url(#b05)"/>
<polyline points="270.6,130.0 269.7,137.3 268.9,144.6" fill="none" stroke="#666666" stroke-width="1.1" stroke-opacity="0.85" stroke-linejoin="round" stroke-linecap="round" filter="url(#b05)"/>
<polyline points="283.0,130.0 281.1,143.9 282.9,157.8" fill="none" stroke="#666666" stroke-width="1.1" stroke-opacity="0.85" stroke-linejoin="round" stroke-linecap="round" filter="url(#b05)"/>
<polyline points="292.0,130.0 291.5,137.9 290.0,145.8" fill="none" stroke="#666666" stroke-width="1.1" stroke-opacity="0.85" stroke-linejoin="round" stroke-linecap="round" filter="url(#b05)"/>
<polyline points="318.0,130.0 317.4,141.5 316.9,153.0" fill="none" stroke="#666666" stroke-width="1.1" stroke-opacity="0.85" stroke-linejoin="round" stroke-linecap="round" filter="url(#b05)"/>
<polyline points="333.6,130.0 334.7,136.7 331.5,143.4" fill="none" stroke="#666666" stroke-width="1.1" stroke-opacity="0.85" stroke-linejoin="round" stroke-linecap="round" filter="url(#b05)"/>
<polyline points="258.0,130.0 260.0,135.0 257.9,140.0" fill="none" stroke="#666666" stroke-width="1.1" stroke-opacity="0.85" stroke-linejoin="round" stroke-linecap="round" filter="url(#b05)"/>
<polyline points="305.0,130.0 305.4,135.5 304.8,141.0" fill="none" stroke="#666666" stroke-width="1.1" stroke-opacity="0.85" stroke-linejoin="round" stroke-linecap="round" filter="url(#b05)"/>
<polyline points="250.0,128.0 251.0,119.0" fill="none" stroke="#616161" stroke-width="1.1" stroke-opacity="0.85" stroke-linejoin="round" stroke-linecap="round" filter="url(#b05)"/>
<polyline points="270.6,128.0 271.6,118.2" fill="none" stroke="#616161" stroke-width="1.1" stroke-opacity="0.85" stroke-linejoin="round" stroke-linecap="round" filter="url(#b05)"/>
<polyline points="298.0,128.0 298.2,121.8" fill="none" stroke="#616161" stroke-width="1.1" stroke-opacity="0.85" stroke-linejoin="round" stroke-linecap="round" filter="url(#b05)"/>
<polyline points="316.0,128.0 315.9,119.4" fill="none" stroke="#616161" stroke-width="1.1" stroke-opacity="0.85" stroke-linejoin="round" stroke-linecap="round" filter="url(#b05)"/>
<polyline points="322.0,128.0 322.7,121.0" fill="none" stroke="#616161" stroke-width="1.1" stroke-opacity="0.85" stroke-linejoin="round" stroke-linecap="round" filter="url(#b05)"/>
<polyline points="336.0,128.0 330.0,134.0 336.0,141.0" fill="none" stroke="#666666" stroke-width="1.3" stroke-opacity="0.9" stroke-linejoin="round" stroke-linecap="round" filter="url(#b05)"/>
<polyline points="83.0,128.0 89.6,128.5 96.0,128.8 102.4,127.5 108.8,128.0 116.8,127.5 123.2,127.2 126.4,132.0 128.0,127.5 136.0,127.5 140.8,128.8 144.8,127.5 148.8,132.0 153.6,130.4 158.4,129.6 161.6,125.6 169.6,126.4 176.0,124.8 182.4,128.8 185.6,125.6 195.2,124.8 201.6,124.0 208.8,121.6 214.4,124.8 219.2,124.8 224.0,128.8 226.4,134.4 226.4,139.2 224.8,142.4" fill="none" stroke="#757575" stroke-width="3.2" stroke-opacity="0.9" stroke-linejoin="round" stroke-linecap="round" filter="url(#b1)"/>
<polyline points="83.0,128.0 89.6,128.5 96.0,128.8 102.4,127.5 108.8,128.0 116.8,127.5 123.2,127.2 126.4,132.0 128.0,127.5 136.0,127.5 140.8,128.8 144.8,127.5 148.8,132.0 153.6,130.4 158.4,129.6 161.6,125.6 169.6,126.4 176.0,124.8 182.4,128.8 185.6,125.6 195.2,124.8 201.6,124.0 208.8,121.6 214.4,124.8 219.2,124.8 224.0,128.8 226.4,134.4 226.4,139.2 224.8,142.4" fill="none" stroke="#cccccc" stroke-width="1.4" stroke-dasharray="4 1" stroke-linejoin="round"/>
<polyline points="225.0,128.0 227.0,140.0" fill="none" stroke="#999999" stroke-width="2.0" stroke-opacity="1.0" stroke-linejoin="round" stroke-linecap="round" filter="url(#b1)"/>
<polyline points="340.0,127.5 350.0,131.0 362.8,134.4 369.2,130.4" fill="none" stroke="#5c5c5c" stroke-width="1.5" stroke-opacity="0.9" stroke-linejoin="round" stroke-linecap="round" filter="url(#b05)"/>
<polyline points="322.0,126.0 330.0,130.0 326.0,137.0 334.0,141.0" fill="none" stroke="#616161" stroke-width="1.3" stroke-opacity="0.9" stroke-linejoin="round" stroke-linecap="round" filter="url(#b05)"/>
<polyline points="369.2,130.4 382.0,128.4 389.6,127.6 405.6,130.8 420.0,129.2 436.0,128.4 452.0,130.8 469.6,128.4 484.0,126.5 495.0,129.0 507.0,124.5 516.0,120.0 525.0,117.0 532.0,112.0 536.0,110.5" fill="none" stroke="#4c4c4c" stroke-width="2.6" stroke-opacity="0.85" stroke-linejoin="round" stroke-linecap="round" filter="url(#b05)"/>
<polyline points="369.2,130.4 382.0,128.4 389.6,127.6 405.6,130.8 420.0,129.2 436.0,128.4 452.0,130.8 469.6,128.4 484.0,126.5 495.0,129.0 507.0,124.5 516.0,120.0 525.0,117.0 532.0,112.0 536.0,110.5" fill="none" stroke="#858585" stroke-width="1.0" stroke-dasharray="5 2 3 1.5" stroke-linejoin="round"/>
<polyline points="536.0,110.5 542.0,113.0 550.0,116.0 560.0,119.0 562.0,121.0 570.0,117.2 582.8,113.2 590.8,110.0 598.8,116.4 605.2,123.6 612.0,125.0" fill="none" stroke="#6b6b6b" stroke-width="1.6" stroke-opacity="1.0" stroke-linejoin="round" stroke-linecap="round" filter="url(#b05)"/>
<ellipse cx="572" cy="114" rx="20" ry="7" fill="#424242" opacity="0.85" filter="url(#b3)"/>
<ellipse cx="535" cy="114" rx="10" ry="5" fill="#3d3d3d" opacity="0.8" filter="url(#b3)"/>
<polyline points="568.0,110.6 571.6,105.8 569.2,119.0" fill="none" stroke="#666666" stroke-width="1.3" stroke-opacity="0.9" stroke-linejoin="round" stroke-linecap="round" filter="url(#b05)"/>
<polyline points="570.0,119.0 576.4,113.0 582.4,110.6 586.0,114.2 592.0,113.0" fill="none" stroke="#666666" stroke-width="1.3" stroke-opacity="0.9" stroke-linejoin="round" stroke-linecap="round" filter="url(#b05)"/>
<polyline points="592.0,110.6 599.0,117.0 606.4,123.8" fill="none" stroke="#666666" stroke-width="1.3" stroke-opacity="0.9" stroke-linejoin="round" stroke-linecap="round" filter="url(#b05)"/>
<polyline points="613.6,104.6 622.0,115.4 625.6,119.0" fill="none" stroke="#666666" stroke-width="1.3" stroke-opacity="0.9" stroke-linejoin="round" stroke-linecap="round" filter="url(#b05)"/>
<polyline points="556.0,112.0 560.0,118.0 566.0,121.0" fill="none" stroke="#666666" stroke-width="1.3" stroke-opacity="0.9" stroke-linejoin="round" stroke-linecap="round" filter="url(#b05)"/>
<polyline points="547.6,124.4 680.0,124.4" fill="none" stroke="#737373" stroke-width="1.3" stroke-opacity="1.0" stroke-linejoin="round" stroke-linecap="round" filter="url(#b05)"/>
<polyline points="680.0,124.0 840.0,124.6 971.0,125.8" fill="none" stroke="#6b6b6b" stroke-width="3.2" stroke-opacity="1.0" stroke-linejoin="round" stroke-linecap="round" filter="url(#b1)"/>
<polyline points="680.0,124.0 840.0,124.6 971.0,125.8" fill="none" stroke="#b8b8b8" stroke-width="1.1" stroke-opacity="1.0" stroke-linejoin="round" stroke-linecap="round"/>
<polyline points="719.0,113.0 722.0,116.0 724.0,117.5 727.0,120.0 730.0,122.5 735.0,123.5" fill="none" stroke="#808080" stroke-width="2.2" stroke-opacity="1.0" stroke-linejoin="round" stroke-linecap="round" filter="url(#b05)"/>
<ellipse cx="724" cy="117.5" rx="2.2" ry="1.8" fill="#b2b2b2" filter="url(#b05)"/>
<polyline points="732.0,121.0 736.0,118.0 740.0,120.0 744.0,118.0" fill="none" stroke="#5c5c5c" stroke-width="1.2" stroke-opacity="0.9" stroke-linejoin="round" stroke-linecap="round" filter="url(#b05)"/>
<polyline points="749.0,124.0 753.0,121.0 756.0,121.0 760.0,122.5" fill="none" stroke="#737373" stroke-width="1.4" stroke-opacity="1.0" stroke-linejoin="round" stroke-linecap="round" filter="url(#b05)"/>
<polyline points="762.0,130.0 768.0,127.0 772.0,123.0 776.0,120.0 780.0,120.0 786.0,121.0" fill="none" stroke="#6b6b6b" stroke-width="1.3" stroke-opacity="1.0" stroke-linejoin="round" stroke-linecap="round" filter="url(#b05)"/>
<polyline points="805.0,125.0 812.0,129.0 820.0,128.0 826.0,125.0" fill="none" stroke="#6b6b6b" stroke-width="1.3" stroke-opacity="1.0" stroke-linejoin="round" stroke-linecap="round" filter="url(#b05)"/>
<polyline points="846.0,124.6 854.0,117.4 860.4,117.4 871.6,123.8" fill="none" stroke="#666666" stroke-width="1.3" stroke-opacity="1.0" stroke-linejoin="round" stroke-linecap="round" filter="url(#b05)"/>
<polyline points="940.0,126.0 971.0,128.6" fill="none" stroke="#808080" stroke-width="1.5" stroke-opacity="1.0" stroke-linejoin="round" stroke-linecap="round" filter="url(#b05)"/>
</g>
<line x1="157.50" y1="49.2" x2="157.50" y2="201.2" stroke="#000" stroke-width="1" stroke-dasharray="1.6 3.95" opacity="0.78"/>
<line x1="232.50" y1="49.2" x2="232.50" y2="201.2" stroke="#000" stroke-width="1" stroke-dasharray="1.6 3.95" opacity="0.78"/>
<line x1="307.50" y1="49.2" x2="307.50" y2="201.2" stroke="#000" stroke-width="1" stroke-dasharray="1.6 3.95" opacity="0.78"/>
<line x1="381.50" y1="49.2" x2="381.50" y2="201.2" stroke="#000" stroke-width="1" stroke-dasharray="1.6 3.95" opacity="0.78"/>
<line x1="456.50" y1="49.2" x2="456.50" y2="201.2" stroke="#000" stroke-width="1" stroke-dasharray="1.6 3.95" opacity="0.78"/>
<line x1="531.50" y1="49.2" x2="531.50" y2="201.2" stroke="#000" stroke-width="1" stroke-dasharray="1.6 3.95" opacity="0.78"/>
<line x1="606.50" y1="49.2" x2="606.50" y2="201.2" stroke="#000" stroke-width="1" stroke-dasharray="1.6 3.95" opacity="0.78"/>
<line x1="680.50" y1="49.2" x2="680.50" y2="201.2" stroke="#000" stroke-width="1" stroke-dasharray="1.6 3.95" opacity="0.78"/>
<line x1="755.50" y1="49.2" x2="755.50" y2="201.2" stroke="#000" stroke-width="1" stroke-dasharray="1.6 3.95" opacity="0.78"/>
<line x1="830.50" y1="49.2" x2="830.50" y2="201.2" stroke="#000" stroke-width="1" stroke-dasharray="1.6 3.95" opacity="0.78"/>
<line x1="905.50" y1="49.2" x2="905.50" y2="201.2" stroke="#000" stroke-width="1" stroke-dasharray="1.6 3.95" opacity="0.78"/>
<line x1="82.8" y1="186.50" x2="971.6" y2="186.50" stroke="#000" stroke-width="1" stroke-dasharray="1.6 3.95" opacity="0.78"/>
<line x1="82.8" y1="170.50" x2="971.6" y2="170.50" stroke="#000" stroke-width="1" stroke-dasharray="1.6 3.95" opacity="0.78"/>
<line x1="82.8" y1="155.50" x2="971.6" y2="155.50" stroke="#000" stroke-width="1" stroke-dasharray="1.6 3.95" opacity="0.78"/>
<line x1="82.8" y1="140.50" x2="971.6" y2="140.50" stroke="#000" stroke-width="1" stroke-dasharray="1.6 3.95" opacity="0.78"/>
<line x1="82.8" y1="125.50" x2="971.6" y2="125.50" stroke="#000" stroke-width="1" stroke-dasharray="1.6 3.95" opacity="0.78"/>
<line x1="82.8" y1="110.50" x2="971.6" y2="110.50" stroke="#000" stroke-width="1" stroke-dasharray="1.6 3.95" opacity="0.78"/>
<line x1="82.8" y1="95.50" x2="971.6" y2="95.50" stroke="#000" stroke-width="1" stroke-dasharray="1.6 3.95" opacity="0.78"/>
<line x1="82.8" y1="80.50" x2="971.6" y2="80.50" stroke="#000" stroke-width="1" stroke-dasharray="1.6 3.95" opacity="0.78"/>
<line x1="82.8" y1="64.50" x2="971.6" y2="64.50" stroke="#000" stroke-width="1" stroke-dasharray="1.6 3.95" opacity="0.78"/>
<line x1="157.50" y1="49.2" x2="157.50" y2="54.7" stroke="#000" stroke-width="1"/>
<line x1="157.50" y1="201.2" x2="157.50" y2="195.7" stroke="#000" stroke-width="1"/>
<line x1="232.50" y1="49.2" x2="232.50" y2="54.7" stroke="#000" stroke-width="1"/>
<line x1="232.50" y1="201.2" x2="232.50" y2="195.7" stroke="#000" stroke-width="1"/>
<line x1="307.50" y1="49.2" x2="307.50" y2="54.7" stroke="#000" stroke-width="1"/>
<line x1="307.50" y1="201.2" x2="307.50" y2="195.7" stroke="#000" stroke-width="1"/>
<line x1="381.50" y1="49.2" x2="381.50" y2="54.7" stroke="#000" stroke-width="1"/>
<line x1="381.50" y1="201.2" x2="381.50" y2="195.7" stroke="#000" stroke-width="1"/>
<line x1="456.50" y1="49.2" x2="456.50" y2="54.7" stroke="#000" stroke-width="1"/>
<line x1="456.50" y1="201.2" x2="456.50" y2="195.7" stroke="#000" stroke-width="1"/>
<line x1="531.50" y1="49.2" x2="531.50" y2="54.7" stroke="#000" stroke-width="1"/>
<line x1="531.50" y1="201.2" x2="531.50" y2="195.7" stroke="#000" stroke-width="1"/>
<line x1="606.50" y1="49.2" x2="606.50" y2="54.7" stroke="#000" stroke-width="1"/>
<line x1="606.50" y1="201.2" x2="606.50" y2="195.7" stroke="#000" stroke-width="1"/>
<line x1="680.50" y1="49.2" x2="680.50" y2="54.7" stroke="#000" stroke-width="1"/>
<line x1="680.50" y1="201.2" x2="680.50" y2="195.7" stroke="#000" stroke-width="1"/>
<line x1="755.50" y1="49.2" x2="755.50" y2="54.7" stroke="#000" stroke-width="1"/>
<line x1="755.50" y1="201.2" x2="755.50" y2="195.7" stroke="#000" stroke-width="1"/>
<line x1="830.50" y1="49.2" x2="830.50" y2="54.7" stroke="#000" stroke-width="1"/>
<line x1="830.50" y1="201.2" x2="830.50" y2="195.7" stroke="#000" stroke-width="1"/>
<line x1="905.50" y1="49.2" x2="905.50" y2="54.7" stroke="#000" stroke-width="1"/>
<line x1="905.50" y1="201.2" x2="905.50" y2="195.7" stroke="#000" stroke-width="1"/>
<line x1="82.8" y1="186.50" x2="88.3" y2="186.50" stroke="#000" stroke-width="1"/>
<line x1="971.6" y1="186.50" x2="966.1" y2="186.50" stroke="#000" stroke-width="1"/>
<line x1="82.8" y1="170.50" x2="88.3" y2="170.50" stroke="#000" stroke-width="1"/>
<line x1="971.6" y1="170.50" x2="966.1" y2="170.50" stroke="#000" stroke-width="1"/>
<line x1="82.8" y1="155.50" x2="88.3" y2="155.50" stroke="#000" stroke-width="1"/>
<line x1="971.6" y1="155.50" x2="966.1" y2="155.50" stroke="#000" stroke-width="1"/>
<line x1="82.8" y1="140.50" x2="88.3" y2="140.50" stroke="#000" stroke-width="1"/>
<line x1="971.6" y1="140.50" x2="966.1" y2="140.50" stroke="#000" stroke-width="1"/>
<line x1="82.8" y1="125.50" x2="88.3" y2="125.50" stroke="#000" stroke-width="1"/>
<line x1="971.6" y1="125.50" x2="966.1" y2="125.50" stroke="#000" stroke-width="1"/>
<line x1="82.8" y1="110.50" x2="88.3" y2="110.50" stroke="#000" stroke-width="1"/>
<line x1="971.6" y1="110.50" x2="966.1" y2="110.50" stroke="#000" stroke-width="1"/>
<line x1="82.8" y1="95.50" x2="88.3" y2="95.50" stroke="#000" stroke-width="1"/>
<line x1="971.6" y1="95.50" x2="966.1" y2="95.50" stroke="#000" stroke-width="1"/>
<line x1="82.8" y1="80.50" x2="88.3" y2="80.50" stroke="#000" stroke-width="1"/>
<line x1="971.6" y1="80.50" x2="966.1" y2="80.50" stroke="#000" stroke-width="1"/>
<line x1="82.8" y1="64.50" x2="88.3" y2="64.50" stroke="#000" stroke-width="1"/>
<line x1="971.6" y1="64.50" x2="966.1" y2="64.50" stroke="#000" stroke-width="1"/>
<rect x="82.8" y="49.2" width="888.8" height="152.0" fill="none" stroke="#000" stroke-width="1.4"/>
<line x1="156.50" y1="286.5" x2="156.50" y2="437.2" stroke="#000" stroke-width="1" stroke-dasharray="1.6 3.95" opacity="0.55"/>
<line x1="230.50" y1="286.5" x2="230.50" y2="437.2" stroke="#000" stroke-width="1" stroke-dasharray="1.6 3.95" opacity="0.55"/>
<line x1="305.50" y1="286.5" x2="305.50" y2="437.2" stroke="#000" stroke-width="1" stroke-dasharray="1.6 3.95" opacity="0.55"/>
<line x1="379.50" y1="286.5" x2="379.50" y2="437.2" stroke="#000" stroke-width="1" stroke-dasharray="1.6 3.95" opacity="0.55"/>
<line x1="453.50" y1="286.5" x2="453.50" y2="437.2" stroke="#000" stroke-width="1" stroke-dasharray="1.6 3.95" opacity="0.55"/>
<line x1="527.50" y1="286.5" x2="527.50" y2="437.2" stroke="#000" stroke-width="1" stroke-dasharray="1.6 3.95" opacity="0.55"/>
<line x1="601.50" y1="286.5" x2="601.50" y2="437.2" stroke="#000" stroke-width="1" stroke-dasharray="1.6 3.95" opacity="0.55"/>
<line x1="675.50" y1="286.5" x2="675.50" y2="437.2" stroke="#000" stroke-width="1" stroke-dasharray="1.6 3.95" opacity="0.55"/>
<line x1="749.50" y1="286.5" x2="749.50" y2="437.2" stroke="#000" stroke-width="1" stroke-dasharray="1.6 3.95" opacity="0.55"/>
<line x1="823.50" y1="286.5" x2="823.50" y2="437.2" stroke="#000" stroke-width="1" stroke-dasharray="1.6 3.95" opacity="0.55"/>
<line x1="897.50" y1="286.5" x2="897.50" y2="437.2" stroke="#000" stroke-width="1" stroke-dasharray="1.6 3.95" opacity="0.55"/>
<line x1="82.7" y1="318.50" x2="971.2" y2="318.50" stroke="#000" stroke-width="1" stroke-dasharray="1.6 3.95" opacity="0.55"/>
<line x1="82.7" y1="350.50" x2="971.2" y2="350.50" stroke="#000" stroke-width="1" stroke-dasharray="1.6 3.95" opacity="0.55"/>
<line x1="82.7" y1="381.50" x2="971.2" y2="381.50" stroke="#000" stroke-width="1" stroke-dasharray="1.6 3.95" opacity="0.55"/>
<line x1="82.7" y1="413.50" x2="971.2" y2="413.50" stroke="#000" stroke-width="1" stroke-dasharray="1.6 3.95" opacity="0.55"/>
<line x1="156.50" y1="286.5" x2="156.50" y2="292.0" stroke="#000" stroke-width="1"/>
<line x1="156.50" y1="437.2" x2="156.50" y2="431.7" stroke="#000" stroke-width="1"/>
<line x1="230.50" y1="286.5" x2="230.50" y2="292.0" stroke="#000" stroke-width="1"/>
<line x1="230.50" y1="437.2" x2="230.50" y2="431.7" stroke="#000" stroke-width="1"/>
<line x1="305.50" y1="286.5" x2="305.50" y2="292.0" stroke="#000" stroke-width="1"/>
<line x1="305.50" y1="437.2" x2="305.50" y2="431.7" stroke="#000" stroke-width="1"/>
<line x1="379.50" y1="286.5" x2="379.50" y2="292.0" stroke="#000" stroke-width="1"/>
<line x1="379.50" y1="437.2" x2="379.50" y2="431.7" stroke="#000" stroke-width="1"/>
<line x1="453.50" y1="286.5" x2="453.50" y2="292.0" stroke="#000" stroke-width="1"/>
<line x1="453.50" y1="437.2" x2="453.50" y2="431.7" stroke="#000" stroke-width="1"/>
<line x1="527.50" y1="286.5" x2="527.50" y2="292.0" stroke="#000" stroke-width="1"/>
<line x1="527.50" y1="437.2" x2="527.50" y2="431.7" stroke="#000" stroke-width="1"/>
<line x1="601.50" y1="286.5" x2="601.50" y2="292.0" stroke="#000" stroke-width="1"/>
<line x1="601.50" y1="437.2" x2="601.50" y2="431.7" stroke="#000" stroke-width="1"/>
<line x1="675.50" y1="286.5" x2="675.50" y2="292.0" stroke="#000" stroke-width="1"/>
<line x1="675.50" y1="437.2" x2="675.50" y2="431.7" stroke="#000" stroke-width="1"/>
<line x1="749.50" y1="286.5" x2="749.50" y2="292.0" stroke="#000" stroke-width="1"/>
<line x1="749.50" y1="437.2" x2="749.50" y2="431.7" stroke="#000" stroke-width="1"/>
<line x1="823.50" y1="286.5" x2="823.50" y2="292.0" stroke="#000" stroke-width="1"/>
<line x1="823.50" y1="437.2" x2="823.50" y2="431.7" stroke="#000" stroke-width="1"/>
<line x1="897.50" y1="286.5" x2="897.50" y2="292.0" stroke="#000" stroke-width="1"/>
<line x1="897.50" y1="437.2" x2="897.50" y2="431.7" stroke="#000" stroke-width="1"/>
<line x1="82.7" y1="318.50" x2="88.2" y2="318.50" stroke="#000" stroke-width="1"/>
<line x1="971.2" y1="318.50" x2="965.7" y2="318.50" stroke="#000" stroke-width="1"/>
<line x1="82.7" y1="350.50" x2="88.2" y2="350.50" stroke="#000" stroke-width="1"/>
<line x1="971.2" y1="350.50" x2="965.7" y2="350.50" stroke="#000" stroke-width="1"/>
<line x1="82.7" y1="381.50" x2="88.2" y2="381.50" stroke="#000" stroke-width="1"/>
<line x1="971.2" y1="381.50" x2="965.7" y2="381.50" stroke="#000" stroke-width="1"/>
<line x1="82.7" y1="413.50" x2="88.2" y2="413.50" stroke="#000" stroke-width="1"/>
<line x1="971.2" y1="413.50" x2="965.7" y2="413.50" stroke="#000" stroke-width="1"/>
<rect x="82.7" y="286.5" width="888.5" height="150.7" fill="none" stroke="#000" stroke-width="1.4"/>
<polyline points="83.0,437.2 83.3,395.9 86.4,395.9 88.5,395.6 90.6,395.5 92.7,398.7 94.8,397.3 96.5,399.7 99.0,396.9 100.6,396.7 102.3,397.0 103.9,395.9 106.7,399.4 109.5,393.1 111.6,396.6 113.3,395.5 115.1,394.5 116.7,391.2 118.3,387.9 120.0,391.0 122.8,399.4 125.6,391.0 128.1,384.0 131.2,393.8 134.0,395.9 136.8,389.6 138.9,399.4 141.0,392.4 143.1,393.8 145.5,381.9 148.0,388.2 150.8,391.0 152.6,396.4 154.3,401.5 156.4,392.4 158.2,391.5 159.9,391.7 161.7,394.5 163.4,397.3 165.2,399.6 166.9,401.5 169.7,392.4 171.4,389.8 173.2,386.1 176.0,395.2 179.1,403.6 181.6,398.0 184.4,395.9 186.3,396.6 188.1,398.3 190.0,400.1 192.8,396.6 194.9,395.9 197.1,396.6 199.0,393.0 200.9,388.2 203.4,393.8 205.2,395.2 206.9,395.9 208.3,398.7 210.4,400.1 213.2,394.5 216.0,391.7 217.8,391.2 219.5,392.4 220.9,391.0 223.0,393.8 225.1,383.3 226.5,380.5 227.9,379.8 228.6,398.0 230.3,400.1 231.7,405.0 233.5,394.5 234.9,405.0 236.3,412.0 238.4,409.2 240.5,410.6 242.6,409.2 245.4,407.8 247.9,399.4 249.6,406.4 251.7,395.9 254.5,391.7 256.6,396.6 258.7,406.4 260.8,409.2 262.2,405.7 265.0,413.4 267.1,409.9 269.9,406.4 272.0,411.3 274.1,405.7 276.2,411.3 279.0,402.2 280.8,398.9 282.5,393.8 285.3,407.8 287.4,408.5 288.8,404.3 291.6,411.3 294.4,406.4 296.5,405.8 298.6,403.6 301.4,407.8 304.2,407.1 306.3,406.4 308.2,395.2 310.5,395.2 311.9,408.5 314.1,401.5 315.5,400.8 317.6,397.3 319.7,400.8 322.5,412.0 325.3,412.0 328.1,414.1 329.9,406.4 331.6,411.3 334.1,402.9 335.8,407.1 336.9,402.9 337.9,415.5 340.0,414.1 342.1,414.1 343.5,399.4 345.6,394.9 347.3,398.0 349.1,414.1 350.9,414.7 352.6,414.8 354.7,414.0 356.8,412.7 359.6,414.8 361.7,414.2 363.8,414.8 366.6,407.8 369.4,403.6 371.1,398.4 372.9,394.9 375.7,403.6 377.1,412.0 379.2,413.4 381.3,409.2 383.4,405.7 386.2,410.6 388.3,414.1 390.7,402.2 392.5,412.0 393.9,414.8 395.8,400.8 397.4,412.0 400.2,394.5 403.0,407.8 405.8,410.6 408.6,415.5 410.7,415.6 412.8,415.5 414.6,414.7 416.3,415.5 418.2,407.1 419.8,413.4 421.5,403.6 423.3,400.1 425.2,403.6 427.5,395.2 429.6,410.6 432.5,411.3 435.3,414.1 436.9,414.1 438.6,414.8 440.2,415.9 441.9,413.1 443.7,412.0 445.1,413.4 446.9,406.4 448.6,413.4 451.4,405.0 454.2,393.1 456.3,402.2 457.7,412.7 459.1,410.6 460.9,412.6 462.6,414.8 464.4,414.7 466.1,414.8 468.2,414.4 470.3,412.7 472.4,403.6 474.1,408.5 474.9,386.1 475.9,412.0 478.0,396.6 479.8,395.6 481.5,394.5 484.3,412.0 486.4,414.8 488.3,413.7 490.1,412.0 492.0,410.6 494.1,412.7 496.9,408.5 499.7,412.0 501.1,407.1 502.9,404.9 504.6,402.2 506.7,397.6 508.8,393.1 511.6,403.6 513.0,414.1 514.7,401.5 516.5,405.0 518.6,407.1 520.7,412.7 523.5,406.4 526.3,400.8 527.7,407.8 529.6,395.2 531.2,412.0 533.3,400.8 536.1,395.9 538.2,403.6 539.6,412.7 542.4,412.0 544.5,386.8 545.9,413.4 548.8,412.0 550.5,410.9 552.3,410.6 555.1,409.2 556.5,411.3 559.3,404.3 561.4,396.6 563.5,395.2 565.6,410.6 568.4,409.9 571.2,405.7 573.0,407.6 574.7,407.8 576.8,410.4 578.9,411.3 581.7,409.2 583.8,404.3 586.6,405.7 588.4,400.4 590.1,393.8 592.2,400.8 594.3,412.7 596.0,413.4 597.8,413.4 599.9,413.8 602.0,414.8 604.1,414.3 606.2,414.8 608.0,413.0 609.7,412.0 611.5,408.4 613.2,406.4 615.3,400.9 617.4,394.5 619.5,399.4 621.6,407.1 623.7,411.3 626.5,409.2 628.6,408.0 630.7,407.1 632.8,411.3 634.5,413.7 636.3,414.8 638.4,412.0 639.8,404.3 641.2,407.8 643.0,400.7 644.7,394.1 647.5,410.6 649.6,413.4 651.7,412.8 653.8,410.6 655.9,411.2 658.0,410.6 660.1,409.4 662.2,409.9 663.6,407.8 665.8,411.3 668.9,398.0 670.5,395.7 672.1,394.5 674.9,406.4 677.0,407.1 679.1,403.6 681.9,410.6 683.6,411.3 685.4,410.6 687.5,411.3 690.3,406.4 693.1,405.0 695.9,400.8 698.7,394.5 700.8,400.1 702.9,409.2 705.7,406.4 708.5,407.8 710.6,404.6 712.7,401.5 715.5,407.8 718.3,406.4 720.4,400.8 722.5,393.8 724.2,393.1 726.0,390.7 728.8,398.7 730.5,402.0 732.3,405.7 735.1,398.7 736.5,406.4 739.3,402.2 742.1,407.8 743.9,406.7 745.6,407.1 747.4,407.7 749.1,407.8 751.2,402.4 753.3,395.9 755.4,407.8 758.2,409.9 760.3,408.1 762.4,407.1 764.5,406.4 766.6,407.1 768.7,402.9 771.5,405.7 773.2,406.8 775.0,408.5 776.4,394.5 777.8,405.0 779.9,393.8 781.7,395.9 783.5,406.4 786.3,405.7 788.0,408.6 789.8,409.9 791.9,410.7 794.0,410.6 795.8,410.3 797.5,411.3 799.2,409.1 801.0,407.8 802.8,406.0 804.5,405.7 805.9,398.0 807.7,394.1 809.7,398.7 812.2,400.1 814.3,406.4 816.0,406.3 817.8,407.8 819.5,406.9 821.3,405.0 823.4,403.6 826.2,408.5 828.3,400.8 830.4,407.1 832.5,405.0 834.3,395.2 836.0,394.5 837.4,403.6 840.2,405.7 843.0,407.1 844.7,407.8 845.8,395.9 848.6,398.7 850.4,399.2 852.1,400.8 854.2,403.6 857.0,399.4 859.1,405.0 861.9,392.4 864.7,405.7 866.5,406.2 868.2,406.4 871.0,401.5 873.1,405.7 875.9,403.6 878.0,407.1 880.8,401.5 882.9,398.0 885.0,403.6 887.1,402.2 889.2,391.7 891.8,404.8 894.2,405.4 897.2,406.6 899.6,407.4 902.0,408.4 903.2,405.4 905.0,406.9 906.8,409.6 908.9,408.2 911.0,406.0 914.0,401.8 916.7,391.8 919.4,406.0 922.4,406.6 924.8,404.8 926.9,403.2 929.0,403.0 931.4,405.4 933.2,401.8 936.2,404.2 938.3,403.0 940.4,401.2 942.3,395.7 944.3,391.6 945.8,401.8 947.9,401.4 950.0,401.2 952.4,399.8 954.8,399.4 956.4,398.8 958.0,399.8 959.6,398.8 962.0,397.0 964.4,396.4 967.4,398.8 969.8,391.0 970.3,370.0 970.4,286.5" fill="none" stroke="#0000ff" stroke-width="1.5" stroke-linejoin="round"/>
<g fill="#000" font-family='"Liberation Sans", sans-serif'>
<text x="527.00" y="26.20" font-size="14.7" text-anchor="middle" textLength="441.0" lengthAdjust="spacingAndGlyphs" >Grape Narrow Spectrum, Freq. = 10.0 MHz, 2026-04-10T00-00 ,</text>
<text x="527.00" y="43.10" font-size="14.7" text-anchor="middle" textLength="505.0" lengthAdjust="spacingAndGlyphs" >Lat.  31.90, Long. -110.96 (GridDM41mv) Station: WA9TKK Subchannel 0</text>
<text x="78.30" y="205.60" font-size="17.6" text-anchor="end" textLength="16.6" lengthAdjust="spacingAndGlyphs" >-5</text>
<text x="78.30" y="190.90" font-size="17.6" text-anchor="end" textLength="16.6" lengthAdjust="spacingAndGlyphs" >-4</text>
<text x="78.30" y="174.90" font-size="17.6" text-anchor="end" textLength="16.6" lengthAdjust="spacingAndGlyphs" >-3</text>
<text x="78.30" y="159.90" font-size="17.6" text-anchor="end" textLength="16.6" lengthAdjust="spacingAndGlyphs" >-2</text>
<text x="78.30" y="144.90" font-size="17.6" text-anchor="end" textLength="16.6" lengthAdjust="spacingAndGlyphs" >-1</text>
<text x="78.30" y="129.90" font-size="17.6" text-anchor="end" textLength="10.6" lengthAdjust="spacingAndGlyphs" >0</text>
<text x="78.30" y="114.90" font-size="17.6" text-anchor="end" textLength="10.6" lengthAdjust="spacingAndGlyphs" >1</text>
<text x="78.30" y="99.90" font-size="17.6" text-anchor="end" textLength="10.6" lengthAdjust="spacingAndGlyphs" >2</text>
<text x="78.30" y="84.90" font-size="17.6" text-anchor="end" textLength="10.6" lengthAdjust="spacingAndGlyphs" >3</text>
<text x="78.30" y="68.90" font-size="17.6" text-anchor="end" textLength="10.6" lengthAdjust="spacingAndGlyphs" >4</text>
<text x="157.55" y="219.70" font-size="17.6" text-anchor="middle" textLength="20.6" lengthAdjust="spacingAndGlyphs" >02</text>
<text x="232.30" y="219.70" font-size="17.6" text-anchor="middle" textLength="20.6" lengthAdjust="spacingAndGlyphs" >04</text>
<text x="307.06" y="219.70" font-size="17.6" text-anchor="middle" textLength="20.6" lengthAdjust="spacingAndGlyphs" >06</text>
<text x="381.81" y="219.70" font-size="17.6" text-anchor="middle" textLength="20.6" lengthAdjust="spacingAndGlyphs" >08</text>
<text x="456.56" y="219.70" font-size="17.6" text-anchor="middle" textLength="20.6" lengthAdjust="spacingAndGlyphs" >10</text>
<text x="531.31" y="219.70" font-size="17.6" text-anchor="middle" textLength="20.6" lengthAdjust="spacingAndGlyphs" >12</text>
<text x="606.06" y="219.70" font-size="17.6" text-anchor="middle" textLength="20.6" lengthAdjust="spacingAndGlyphs" >14</text>
<text x="680.82" y="219.70" font-size="17.6" text-anchor="middle" textLength="20.6" lengthAdjust="spacingAndGlyphs" >16</text>
<text x="755.57" y="219.70" font-size="17.6" text-anchor="middle" textLength="20.6" lengthAdjust="spacingAndGlyphs" >18</text>
<text x="830.32" y="219.70" font-size="17.6" text-anchor="middle" textLength="20.6" lengthAdjust="spacingAndGlyphs" >20</text>
<text x="905.07" y="219.70" font-size="17.6" text-anchor="middle" textLength="20.6" lengthAdjust="spacingAndGlyphs" >22</text>
<text x="527.50" y="244.80" font-size="17.6" text-anchor="middle" textLength="93.5" lengthAdjust="spacingAndGlyphs" >Hours, UTC</text>
<g transform="translate(47.7,125) rotate(-90)">
<text x="0.00" y="0.00" font-size="17.6" text-anchor="middle" textLength="148.5" lengthAdjust="spacingAndGlyphs" >Doppler Shift (Hz)</text>
</g>
<text x="526.50" y="278.80" font-size="20.6" text-anchor="middle" textLength="262.5" lengthAdjust="spacingAndGlyphs" >Peak Amplitude by Minute</text>
<text x="77.60" y="290.90" font-size="17.6" text-anchor="end" textLength="10.6" lengthAdjust="spacingAndGlyphs" >0</text>
<text x="77.60" y="322.90" font-size="17.6" text-anchor="end" textLength="35.2" lengthAdjust="spacingAndGlyphs" >−20</text>
<text x="77.60" y="354.90" font-size="17.6" text-anchor="end" textLength="35.2" lengthAdjust="spacingAndGlyphs" >−40</text>
<text x="77.60" y="385.90" font-size="17.6" text-anchor="end" textLength="35.2" lengthAdjust="spacingAndGlyphs" >−60</text>
<text x="77.60" y="417.90" font-size="17.6" text-anchor="end" textLength="35.2" lengthAdjust="spacingAndGlyphs" >−80</text>
<text x="82.70" y="457.00" font-size="17.6" text-anchor="middle" textLength="20.6" lengthAdjust="spacingAndGlyphs" >00</text>
<text x="156.74" y="457.00" font-size="17.6" text-anchor="middle" textLength="20.6" lengthAdjust="spacingAndGlyphs" >02</text>
<text x="230.78" y="457.00" font-size="17.6" text-anchor="middle" textLength="20.6" lengthAdjust="spacingAndGlyphs" >04</text>
<text x="304.82" y="457.00" font-size="17.6" text-anchor="middle" textLength="20.6" lengthAdjust="spacingAndGlyphs" >06</text>
<text x="378.87" y="457.00" font-size="17.6" text-anchor="middle" textLength="20.6" lengthAdjust="spacingAndGlyphs" >08</text>
<text x="452.91" y="457.00" font-size="17.6" text-anchor="middle" textLength="20.6" lengthAdjust="spacingAndGlyphs" >10</text>
<text x="526.95" y="457.00" font-size="17.6" text-anchor="middle" textLength="20.6" lengthAdjust="spacingAndGlyphs" >12</text>
<text x="600.99" y="457.00" font-size="17.6" text-anchor="middle" textLength="20.6" lengthAdjust="spacingAndGlyphs" >14</text>
<text x="675.03" y="457.00" font-size="17.6" text-anchor="middle" textLength="20.6" lengthAdjust="spacingAndGlyphs" >16</text>
<text x="749.08" y="457.00" font-size="17.6" text-anchor="middle" textLength="20.6" lengthAdjust="spacingAndGlyphs" >18</text>
<text x="823.12" y="457.00" font-size="17.6" text-anchor="middle" textLength="20.6" lengthAdjust="spacingAndGlyphs" >20</text>
<text x="897.16" y="457.00" font-size="17.6" text-anchor="middle" textLength="20.6" lengthAdjust="spacingAndGlyphs" >22</text>
<text x="971.20" y="457.00" font-size="17.6" text-anchor="middle" textLength="20.6" lengthAdjust="spacingAndGlyphs" >24</text>
<text x="527.50" y="481.60" font-size="17.6" text-anchor="middle" textLength="93.5" lengthAdjust="spacingAndGlyphs" >Hours, UTC</text>
<g transform="translate(29.0,361.6) rotate(-90)">
<text x="0.00" y="0.00" font-size="17.6" text-anchor="middle" textLength="134.5" lengthAdjust="spacingAndGlyphs" >Amplitude, dBm</text>
</g>
</g>
</svg></body></html>
